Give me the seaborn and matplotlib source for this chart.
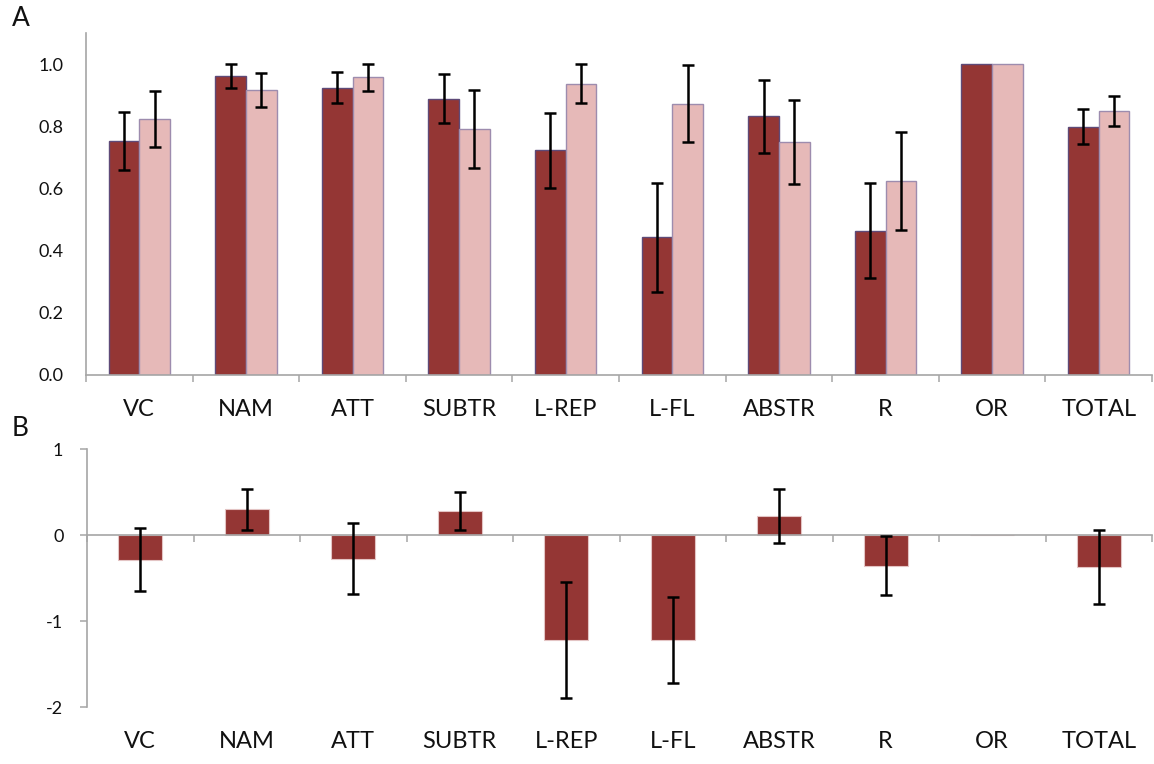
import numpy as np
import pandas as pd
import matplotlib
matplotlib.use("Agg")
import matplotlib.pyplot as plt
from matplotlib.ticker import FixedLocator, FormatStrFormatter, NullFormatter
import seaborn as sns

# ---- data -------------------------------------------------------------
domains = ["VC", "NAM", "ATT", "SUBTR", "L-REP", "L-FL", "ABSTR", "R", "OR", "TOTAL"]

# Panel A: proportion scores for the two groups, with error half-widths
group1_mean = [0.753, 0.962, 0.924, 0.889, 0.723, 0.443, 0.832, 0.464, 1.000, 0.798]
group1_err = [0.094, 0.038, 0.050, 0.080, 0.121, 0.176, 0.118, 0.153, np.nan, 0.056]
group2_mean = [0.823, 0.916, 0.958, 0.791, 0.937, 0.873, 0.748, 0.624, 1.000, 0.848]
group2_err = [0.089, 0.054, 0.043, 0.126, 0.062, 0.125, 0.135, 0.158, np.nan, 0.048]
group_names = ["group 1", "group 2"]

# Panel B: standardised difference per domain, with error half-widths
diff_mean = [-0.286, 0.299, -0.275, 0.279, -1.221, -1.221, 0.221, -0.356, 0.0, -0.376]
diff_err = [0.37, 0.24, 0.41, 0.22, 0.68, 0.50, 0.31, 0.34, np.nan, 0.43]

y_ticks_a = [0.0, 0.2, 0.4, 0.6, 0.8, 1.0]
y_ticks_b = [-2, -1, 0, 1]

# ---- style ------------------------------------------------------------
sns.set_theme(style="white")
plt.rcParams["font.family"] = ["Lato", "DejaVu Sans"]
plt.rcParams["axes.unicode_minus"] = False

DARK = "#943634"
LIGHT = "#e6b9b8"
SPINE = "#a6a6a6"
TXT = "#111111"

fig = plt.figure(figsize=(11.54, 7.64), dpi=100)
W, H = 1154, 764
axA = fig.add_axes([86 / W, 1 - 375 / H, (1152 - 86) / W, (375 - 33) / H])
axB = fig.add_axes([87 / W, 1 - 707 / H, (1152 - 87) / W, (707 - 449) / H])

# ---- panel A: grouped bars ---------------------------------------------
df_a = pd.DataFrame({
    "domain": domains * 2,
    "score": group1_mean + group2_mean,
    "err": group1_err + group2_err,
    "group": [group_names[0]] * len(domains) + [group_names[1]] * len(domains),
})
sns.barplot(data=df_a, x="domain", y="score", hue="group", order=domains,
            hue_order=group_names, palette=[DARK, LIGHT], width=0.575,
            saturation=1, errorbar=None, legend=False, ax=axA)

edge_cols = ["#5e4a78", "#9d8cae"]
fill_cols = [DARK, LIGHT]
for cont, errs, ec, fc in zip(axA.containers, [group1_err, group2_err], edge_cols, fill_cols):
    xs, ys, es = [], [], []
    for bar in cont:
        bar.set_facecolor(fc)
        bar.set_edgecolor(ec)
        bar.set_linewidth(1.0)
        xc = bar.get_x() + bar.get_width() / 2
        idx = int(round(xc))
        xs.append(xc)
        ys.append(bar.get_height())
        es.append(errs[idx])
    axA.errorbar(xs, ys, yerr=es, fmt="none", ecolor="black",
                 elinewidth=1.8, capsize=4.5, capthick=1.8, zorder=5)

axA.set_xlim(-0.5, len(domains) - 0.5)
axA.set_ylim(0, 1.1)
axA.set_xlabel("")
axA.set_ylabel("")
axA.yaxis.set_major_locator(FixedLocator(y_ticks_a))
axA.yaxis.set_major_formatter(FormatStrFormatter("%.1f"))
axA.tick_params(axis="y", length=0, pad=16, labelsize=13, labelcolor=TXT)
axA.set_xticks(range(len(domains)), labels=domains)
axA.xaxis.set_minor_locator(FixedLocator(np.arange(-0.5, len(domains), 1.0)))
axA.tick_params(axis="x", which="major", length=0, pad=17, labelsize=17, labelcolor=TXT)
axA.tick_params(axis="x", which="minor", bottom=True, length=5, width=1.1,
                color=SPINE, direction="out")
for side in ["top", "right"]:
    axA.spines[side].set_visible(False)
for side in ["left", "bottom"]:
    axA.spines[side].set_color(SPINE)
    axA.spines[side].set_linewidth(1.2)

# ---- panel B: difference bars ------------------------------------------
df_b = pd.DataFrame({"domain": domains, "diff": diff_mean, "err": diff_err})
sns.barplot(data=df_b, x="domain", y="diff", order=domains, color=DARK,
            width=0.41, errorbar=None, edgecolor="#e3c4c4", linewidth=0.8,
            saturation=1, ax=axB)
for bar in axB.patches:
    bar.set_facecolor(DARK)
    xc = bar.get_x() + bar.get_width() / 2
    idx = int(round(xc))
    if np.isfinite(diff_err[idx]):
        axB.errorbar([xc], [bar.get_y() + bar.get_height()], yerr=[diff_err[idx]],
                     fmt="none", ecolor="black", elinewidth=1.8, capsize=4.5,
                     capthick=1.8, zorder=5)

axB.set_xlim(-0.5, len(domains) - 0.5)
axB.set_ylim(-2, 1)
axB.set_xlabel("")
axB.set_ylabel("")
axB.yaxis.set_major_locator(FixedLocator(y_ticks_b))
axB.yaxis.set_major_formatter(FormatStrFormatter("%d"))
axB.tick_params(axis="y", left=True, length=5, width=1.1, color=SPINE,
                direction="out", pad=12, labelsize=13, labelcolor=TXT)

# zero line carries the boundary ticks; labels sit along the bottom edge
axB.spines["bottom"].set_position(("data", 0))
axB.set_xticks(range(len(domains)))
axB.xaxis.set_major_formatter(NullFormatter())
axB.tick_params(axis="x", which="major", length=0)
axB.xaxis.set_minor_locator(FixedLocator(np.arange(-0.5, len(domains), 1.0)))
axB.tick_params(axis="x", which="minor", bottom=True, length=5, width=1.1,
                color=SPINE, direction="out")
for side in ["top", "right"]:
    axB.spines[side].set_visible(False)
for side in ["left", "bottom"]:
    axB.spines[side].set_color(SPINE)
    axB.spines[side].set_linewidth(1.2)

labB = axB.secondary_xaxis("bottom")
labB.set_xticks(range(len(domains)), labels=domains)
labB.tick_params(axis="x", length=0, pad=17, labelsize=17, labelcolor=TXT)
labB.spines["bottom"].set_visible(False)

# panel letters
fig.text(12 / W, 1 - 19 / H, "A", fontsize=19, va="center", ha="left", color=TXT)
fig.text(12 / W, 1 - 428 / H, "B", fontsize=19, va="center", ha="left", color=TXT)

fig.savefig("out.png", dpi=100)
